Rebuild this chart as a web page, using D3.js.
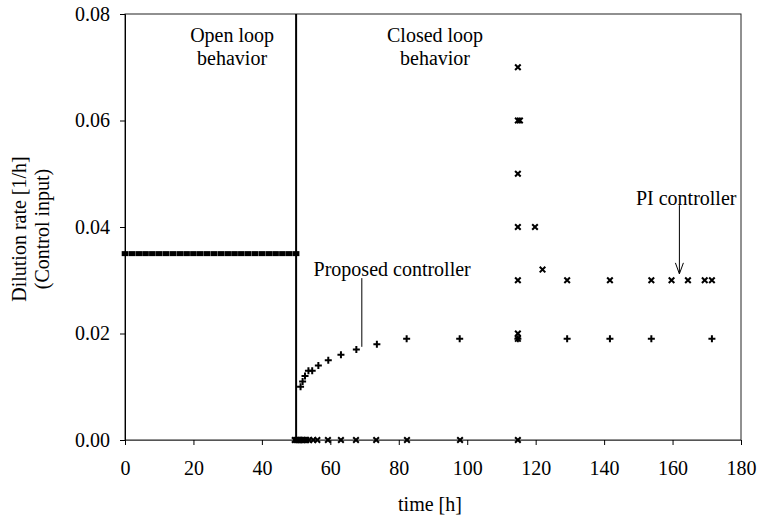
<!DOCTYPE html>
<html>
<head>
<meta charset="utf-8">
<script src="https://cdn.jsdelivr.net/npm/d3@7"></script>
<style>
  html, body { margin: 0; padding: 0; background: #fff; }
  svg { display: block; }
  text { font-family: "Liberation Serif", "Times New Roman", serif; font-size: 20px; fill: #000; }
</style>
</head>
<body>
<svg id="chart" width="757" height="518"></svg>
<script>
// Open-loop phase: constant dilution rate until the switch at t = 50 h
const openTime  = [0, 2, 4, 6, 8, 10, 12, 14, 16, 18, 20, 22, 24, 26, 28, 30, 32, 34, 36, 38, 40, 42, 44, 46, 48, 50];
const openRate  = [0.035, 0.035, 0.035, 0.035, 0.035, 0.035, 0.035, 0.035, 0.035, 0.035, 0.035, 0.035, 0.035,
                   0.035, 0.035, 0.035, 0.035, 0.035, 0.035, 0.035, 0.035, 0.035, 0.035, 0.035, 0.035, 0.035];

// Closed loop, proposed controller (plus markers)
const propTime  = [51.3, 51.9, 52.6, 53.6, 54.7, 56.5, 59.4, 63.1, 67.6, 73.6, 82.3, 97.8, 114.8, 129.2, 141.7, 153.8, 171.5];
const propRate  = [0.010, 0.011, 0.012, 0.013, 0.013, 0.014, 0.015, 0.016, 0.017, 0.018, 0.019, 0.019, 0.019, 0.019, 0.019, 0.019, 0.019];

// Closed loop, PI controller (cross markers)
const piTime    = [49.6, 50.0, 50.3, 50.6, 51.0, 51.4, 51.8, 52.2, 52.6, 53.0, 53.8, 55.0, 56.2, 59.3, 63.1, 67.5, 73.4, 82.4, 97.9,
                   114.8, 114.8, 114.8, 114.8, 114.8, 114.8, 114.8, 115.4, 114.8,
                   119.8, 122.0, 129.2, 141.7, 153.8, 159.7, 164.5, 169.4, 171.5];
const piRate    = [0, 0, 0, 0, 0, 0, 0, 0, 0, 0, 0, 0, 0, 0, 0, 0, 0, 0, 0,
                   0, 0.019, 0.020, 0.030, 0.040, 0.050, 0.060, 0.060, 0.070,
                   0.040, 0.032, 0.030, 0.030, 0.030, 0.030, 0.030, 0.030, 0.030];

// Axis ticks
const xTicks = [0, 20, 40, 60, 80, 100, 120, 140, 160, 180];
const yTicks = [0, 0.02, 0.04, 0.06, 0.08];

// Switching instant between open and closed loop
const switchTime = 50;

// Text annotations (data coordinates)
const phaseLabels = [
  { t: 31.3, lines: ["Open loop", "behavior"] },
  { t: 90.6, lines: ["Closed loop", "behavior"] }
];
const proposedNote = { text: "Proposed controller", tx: 55.1, ty: 0.0308, lx: 69.2, y0: 0.0304, y1: 0.0175 };
const piNote       = { text: "PI controller", tx: 149.3, ty: 0.0442, lx: 162.0, y0: 0.0441, y1: 0.0312 };

const svg = d3.select("#chart");
const plotLeft = 125, plotRight = 741, plotTop = 14, plotBottom = 440;

const x = d3.scaleLinear().domain([0, 180]).range([plotLeft, plotRight]);
const y = d3.scaleLinear().domain([0, 0.08]).range([plotBottom, plotTop]);

// Plot frame
svg.append("rect")
  .attr("x", plotLeft).attr("y", plotTop)
  .attr("width", plotRight - plotLeft).attr("height", plotBottom - plotTop)
  .attr("fill", "none").attr("stroke", "#222").attr("stroke-width", 1);

// Y axis
const yAxis = svg.append("g")
  .attr("transform", `translate(${plotLeft},0)`)
  .call(d3.axisLeft(y).tickValues(yTicks).tickFormat(d3.format(".2f")).tickSize(5).tickPadding(10));
yAxis.select(".domain").attr("stroke", "#000");
yAxis.selectAll(".tick line").attr("stroke", "#000");
yAxis.selectAll("text").style("font-size", "20px").style("font-family", "Liberation Serif, serif").attr("fill", "#111");

// X axis
const xAxis = svg.append("g")
  .attr("transform", `translate(0,${plotBottom})`)
  .call(d3.axisBottom(x).tickValues(xTicks).tickFormat(d3.format("d")).tickSize(5).tickPadding(16));
xAxis.select(".domain").attr("stroke", "#555");
xAxis.selectAll(".tick line").attr("stroke", "#000");
xAxis.selectAll("text").style("font-size", "20px").style("font-family", "Liberation Serif, serif").attr("fill", "#111");

// Axis titles
svg.append("text")
  .attr("x", (plotLeft + plotRight) / 2 - 3).attr("y", 511)
  .attr("text-anchor", "middle").text("time [h]");

const yTitle = svg.append("text")
  .attr("transform", "translate(26,229) rotate(-90)")
  .attr("text-anchor", "middle");
yTitle.append("tspan").attr("x", 0).attr("y", 0).text("Dilution rate [1/h]");
yTitle.append("tspan").attr("x", 0).attr("y", 23).text("(Control input)");

// Switch line
svg.append("line")
  .attr("x1", x(switchTime)).attr("x2", x(switchTime))
  .attr("y1", y(0)).attr("y2", y(0.08))
  .attr("stroke", "#000").attr("stroke-width", 2);

// Open-loop markers (short dashes, nearly touching)
const openData = openTime.map((t, i) => ({ t, v: openRate[i] }));
svg.append("g").selectAll("rect").data(openData).join("rect")
  .attr("x", d => x(d.t) - 3.3).attr("y", d => y(d.v) - 2.5)
  .attr("width", 6.6).attr("height", 5)
  .attr("fill", "#000");

// Proposed controller markers (+)
const propData = propTime.map((t, i) => ({ t, v: propRate[i] }));
svg.append("g").selectAll("path").data(propData).join("path")
  .attr("transform", d => `translate(${x(d.t)},${y(d.v)})`)
  .attr("d", "M-3.5,0H3.5M0,-3.5V3.5")
  .attr("stroke", "#000").attr("stroke-width", 2).attr("fill", "none");

// PI controller markers (x)
const piData = piTime.map((t, i) => ({ t, v: piRate[i] }));
svg.append("g").selectAll("path").data(piData).join("path")
  .attr("transform", d => `translate(${x(d.t)},${y(d.v)})`)
  .attr("d", "M-2.8,-2.8L2.8,2.8M-2.8,2.8L2.8,-2.8")
  .attr("stroke", "#000").attr("stroke-width", 2).attr("fill", "none");

// Phase labels
phaseLabels.forEach(p => {
  const t = svg.append("text").attr("text-anchor", "middle");
  p.lines.forEach((s, i) => {
    t.append("tspan").attr("x", x(p.t)).attr("y", 42 + i * 23).text(s);
  });
});

// Proposed controller label with leader line
svg.append("text").attr("x", x(proposedNote.tx)).attr("y", y(proposedNote.ty)).text(proposedNote.text);
svg.append("line")
  .attr("x1", x(proposedNote.lx)).attr("x2", x(proposedNote.lx))
  .attr("y1", y(proposedNote.y0)).attr("y2", y(proposedNote.y1))
  .attr("stroke", "#000").attr("stroke-width", 1);

// PI controller label with arrow
svg.append("text").attr("x", x(piNote.tx)).attr("y", y(piNote.ty)).text(piNote.text);
const ax = x(piNote.lx), ay0 = y(piNote.y0), ay1 = y(piNote.y1);
svg.append("line")
  .attr("x1", ax).attr("x2", ax).attr("y1", ay0).attr("y2", ay1)
  .attr("stroke", "#000").attr("stroke-width", 1);
svg.append("path")
  .attr("d", `M${ax - 4},${ay1 - 11}L${ax},${ay1}L${ax + 4},${ay1 - 11}`)
  .attr("stroke", "#000").attr("stroke-width", 1).attr("fill", "none");
</script>
</body>
</html>
